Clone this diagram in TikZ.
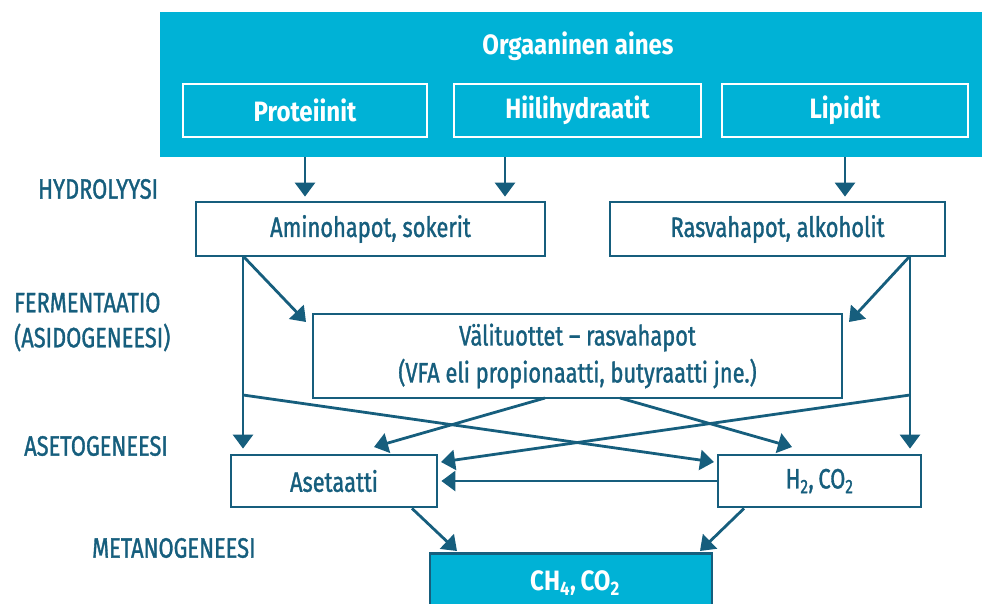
\documentclass[tikz,border=0pt]{standalone}
\usepackage{fontspec}
\setmainfont{Fira Sans}[FakeStretch=0.78,FakeBold=1.2,BoldFeatures={FakeStretch=0.86,FakeBold=0}]
\usetikzlibrary{arrows.meta,calc}
\definecolor{cy}{RGB}{0,178,214}
\definecolor{dk}{RGB}{22,94,125}
\tikzset{
  box/.style={draw=dk,line width=2.8pt,fill=white,text=dk,inner sep=0pt,font=\fontsize{28}{32}\selectfont},
  wbox/.style={draw=white,line width=2.6pt,fill=cy,text=white,inner sep=0pt,font=\fontsize{28}{32}\selectfont\bfseries},
  stage/.style={text=dk,inner sep=0pt,font=\fontsize{28}{32}\selectfont,align=left},
  arr/.style={draw=dk,line width=2.8pt,-{Triangle[length=14pt,width=20pt]}},
}
\begin{document}
\begin{tikzpicture}[x=1pt,y=-1pt]
\useasboundingbox (0,0) rectangle (982,603);
% top block
\node[fill=cy,minimum width=840pt,minimum height=145pt,inner sep=0pt,anchor=north west] (top) at (160,12) {};
\node[text=white,font=\fontsize{28}{32}\selectfont\bfseries,inner sep=0pt] (org) at (578,46) {Orgaaninen aines};
\node[wbox,minimum width=244pt,minimum height=53pt] (prot) at (305,110.5) {Proteiinit};
\node[wbox,minimum width=247pt,minimum height=53pt] (hiili) at (577.5,110.5) {Hiilihydraatit};
\node[wbox,minimum width=246pt,minimum height=53pt] (lip) at (845,110.5) {Lipidit};
% boxes
\node[box,minimum width=349pt,minimum height=54pt] (ami) at (370.5,229) {Aminohapot, sokerit};
\node[box,minimum width=335pt,minimum height=54pt] (rasva) at (777.5,229) {Rasvahapot, alkoholit};
\node[box,minimum width=529pt,minimum height=84pt,align=center,font=\fontsize{28}{37}\selectfont] (vali) at (577.5,356) {Välituottet -- rasvahapot\\(VFA eli propionaatti, butyraatti jne.)};
\node[box,minimum width=206pt,minimum height=52pt] (aset) at (334,481) {Asetaatti};
\node[box,minimum width=203pt,minimum height=52pt] (h2) at (819.5,481) {H\textsubscript{2},\,CO\textsubscript{2}};
\node[fill=cy,draw=dk,line width=2.8pt,inner sep=0pt,minimum width=282pt,minimum height=70pt,anchor=north] (ch4) at (571,552) {};
\node[text=white,inner sep=0pt,font=\fontsize{28}{32}\selectfont\bfseries] (ch4t) at (575,583) {CH\textsubscript{4},\,CO\textsubscript{2}};
% stage labels
\node[stage,anchor=west] (hyd) at (38,189) {HYDROLYYSI};
\node[stage,anchor=west,font=\fontsize{28}{35}\selectfont] (ferm) at (14,322) {FERMENTAATIO\\(ASIDOGENEESI)};
\node[stage,anchor=west] (asg) at (24,446) {ASETOGENEESI};
\node[stage,anchor=west] (met) at (92,548) {METANOGENEESI};
% junction coordinates
\coordinate (a1) at (243,256);
\coordinate (a2) at (243,395);
\coordinate (r1) at (910,256);
\coordinate (r2) at (910,395);
\coordinate (v1) at (545,398);
\coordinate (v2) at (620,398);
% hydrolysis arrows
\draw[arr] (top.south -| prot) -- ($(ami.north -| prot)+(0,-4)$);
\draw[arr] (505,157) -- ($(ami.north -| 505,0)+(0,-4)$);
\draw[arr] (top.south -| lip) -- ($(rasva.north -| lip)+(0,-4)$);
% fermentation
\draw[arr] (a1) -- (306,322);
\draw[arr] (r1) -- (849,322);
\draw[arr] (a1) -- ($(aset.north -| a1)+(0,-5)$);
\draw[arr] (r1) -- ($(h2.north -| r1)+(0,-5)$);
% acetogenesis
\draw[arr] (a2) -- (714,462);
\draw[arr] (r2) -- (441,462);
\draw[arr] (v1) -- (374,447);
\draw[arr] (v2) -- (792,447);
\draw[arr] (h2.west) -- ($(aset.east)+(3,0)$);
% methanogenesis
\draw[arr] (aset.south -| 412,0) -- (457,551);
\draw[arr] (h2.south -| 744,0) -- (700,551);
\end{tikzpicture}
\end{document}
